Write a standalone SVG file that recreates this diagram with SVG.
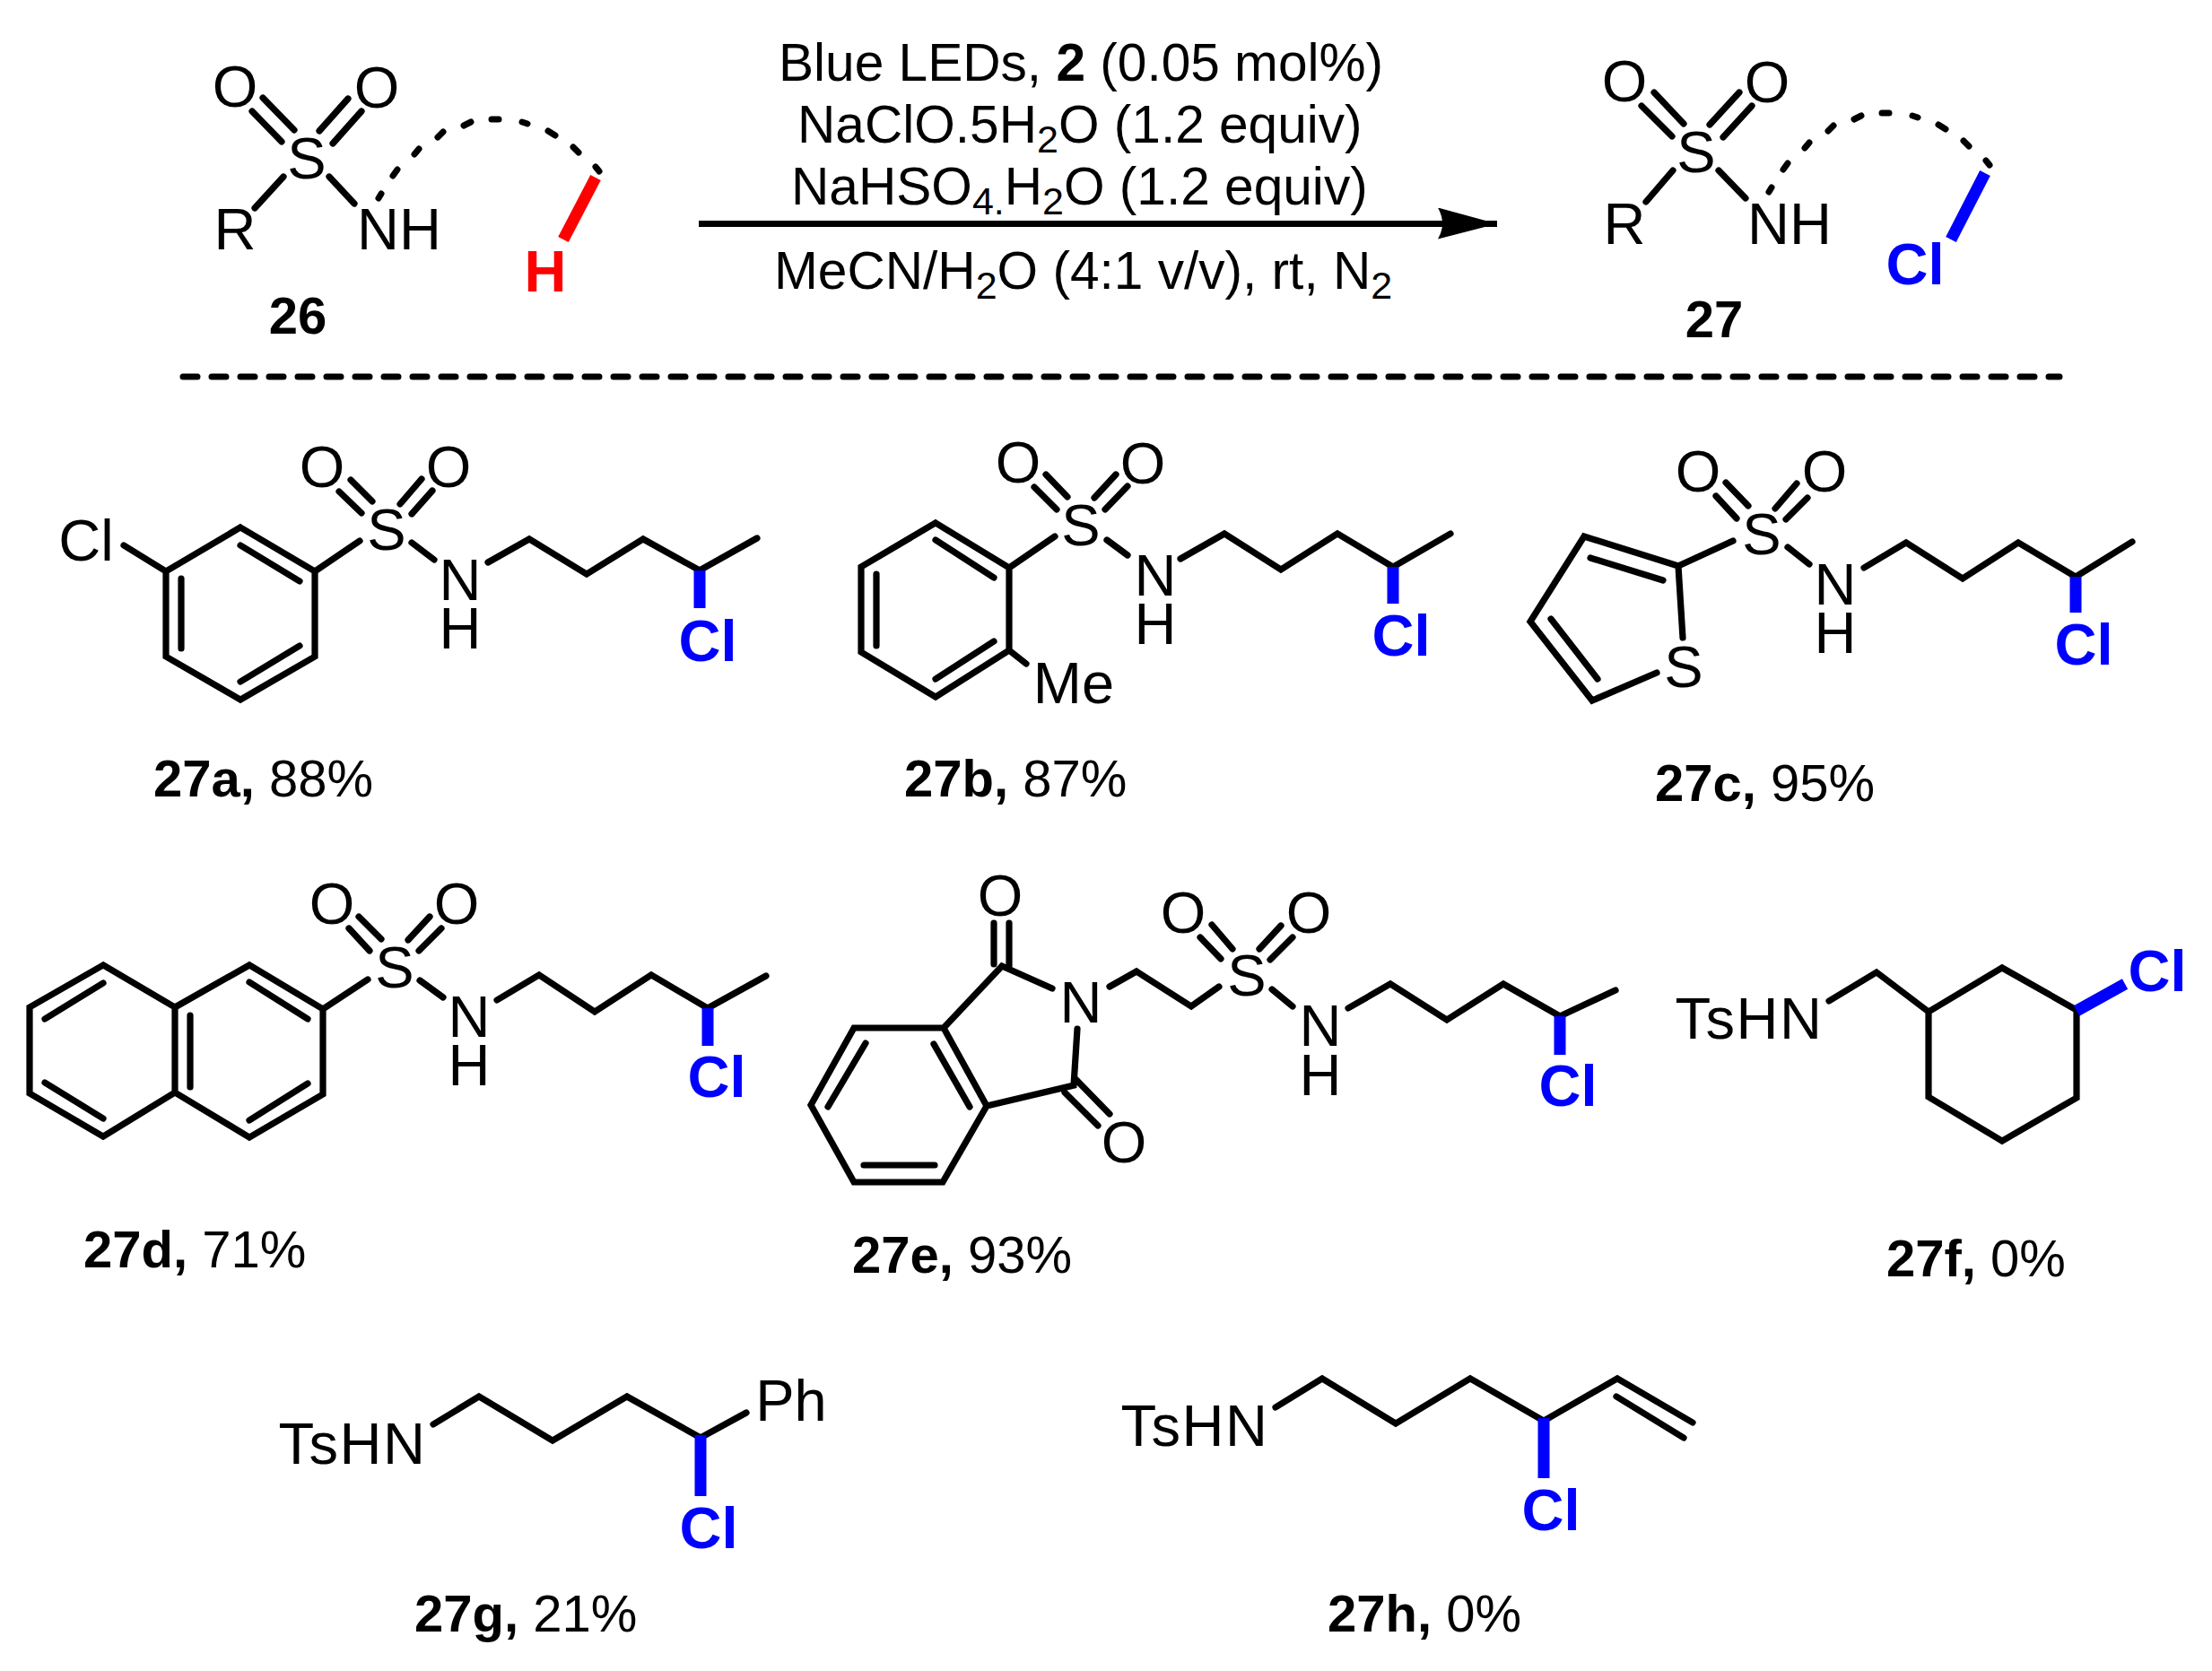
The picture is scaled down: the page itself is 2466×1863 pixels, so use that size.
<svg xmlns="http://www.w3.org/2000/svg" width="2466" height="1863" viewBox="0 0 2466 1863">
<style>
text{font-family:"Liberation Sans",Arial,sans-serif;fill:#000}
.a{font-size:65px;text-anchor:middle}
.t{font-size:65px;text-anchor:middle;letter-spacing:1.5px}
.cl{font-size:65px;font-weight:bold;text-anchor:middle;fill:#0000ff}
.h{font-size:65px;font-weight:bold;text-anchor:middle;fill:#ff0000}
.c{font-size:58.600px}
.l{font-size:58px}
.n{font-weight:bold}
.s{font-size:43px}
.b{fill:none;stroke:#000;stroke-width:7.200;stroke-linecap:round;stroke-linejoin:miter}
.d{fill:none;stroke:#000;stroke-width:7;stroke-linecap:round}
.x{fill:none;stroke:#0000ff;stroke-width:13}
.y{fill:none;stroke:#ff0000;stroke-width:13}
</style>
<defs>
<marker id="head" markerUnits="userSpaceOnUse" markerWidth="70" markerHeight="40" refX="66" refY="18" orient="auto"><path d="M0 0L66 18L0 35Q10 18 0 0Z" fill="#000"/></marker>
</defs>
<rect width="2466" height="1863" fill="#fff"/>
<g id="connectors">
<path d="M779 249.500L1669 249.500" fill="none" stroke="#000" stroke-width="7" marker-end="url(#head)"/>
<path d="M204 420L2296 420" fill="none" stroke="#000" stroke-width="7" stroke-linecap="round" stroke-dasharray="16 16"/>
</g>
<g id="conditions">
<text class="c" x="868" y="90">Blue LEDs, <tspan class="n">2</tspan> (0.05 mol%)</text>
<text class="c" x="889" y="159">NaClO.5H<tspan class="s" dy="11">2</tspan><tspan dy="-11">O (1.2 equiv)</tspan></text>
<text class="c" x="882" y="228">NaHSO<tspan class="s" dy="11">4.</tspan><tspan dy="-11">H</tspan><tspan class="s" dy="11">2</tspan><tspan dy="-11">O (1.2 equiv)</tspan></text>
<text class="c" x="863" y="322">MeCN/H<tspan class="s" dy="11">2</tspan><tspan dy="-11">O (4:1 v/v), rt, N</tspan><tspan class="s" dy="11">2</tspan></text>
</g>
<g id="m26">
<path class="b" d="M293 109L328 145M281 124L314 158M388 110L356 146M403 124L371 160M316 197L284 232M367 197L395 227"/>
<path id="tether" class="d" d="M422 221L425 216M438 196L443 189M462 172L467 166M488 153L494 147M517 140L525 136M548 133L556 133M582 136L588 138M611 146L619 151M639 164L645 170M664 186L668 191"/>
<path class="y" d="M664 198L628 267"/>
<text class="a" x="262" y="119">O</text><text class="a" x="420" y="120">O</text><text class="a" x="342" y="199">S</text>
<text class="a" x="262" y="278">R</text><text class="a" x="445" y="278">NH</text>
<text class="h" x="608" y="325">H</text>
<text class="l n" x="332" y="372" text-anchor="middle">26</text>
</g>
<g id="m27">
<path class="b" d="M1844 103L1877 138M1830 118L1864 152M1939 103L1906 139M1953 118L1921 153M1865 190L1835 225M1916 190L1946 221"/>
<path class="d" transform="translate(1550 -7)" d="M422 221L425 216M438 196L443 189M462 172L467 166M488 153L494 147M517 140L525 136M548 133L556 133M582 136L588 138M611 146L619 151M639 164L645 170M664 186L668 191"/>
<path class="x" d="M2213 193L2175 267"/>
<text class="a" x="1811" y="113">O</text><text class="a" x="1970" y="114">O</text><text class="a" x="1891" y="192">S</text>
<text class="a" x="1811" y="272">R</text><text class="a" x="1995" y="272">NH</text>
<text class="cl" x="2135" y="317">Cl</text>
<text class="l n" x="1911" y="376" text-anchor="middle">27</text>
</g>
<g id="m27a">
<path class="b" d="M268 588L351 637L351 732L268 780L185 732L185 637ZM268 608L334 648M334 720L268 760M202 645L202 723M185 637L138 608M351 637L401 603M391 535L415 559M378 548L403 572M470 534L446 562M482 547L459 573M459 605L484 624M544 627L590 601L654 640L717 601L780 636L844 600"/>
<path class="x" d="M780 636L780 678"/>
<text class="a" x="96" y="625">Cl</text><text class="a" x="431" y="613">S</text><text class="a" x="359" y="543">O</text><text class="a" x="500" y="543">O</text><text class="a" x="513" y="669">N</text><text class="a" x="513" y="723">H</text>
<text class="cl" x="789" y="737">Cl</text>
<text class="l" x="171" y="888"><tspan class="n">27a,</tspan> 88%</text>
</g>
<g id="m27b">
<path class="b" d="M1043 583L1125 633L1125 725L1043 777L960 727L960 632ZM1043 602L1108 644M1108 715L1043 757M977 640L977 720M1125 633L1176 598M1166 529L1190 554M1153 543L1178 568M1244 529L1220 555M1257 542L1232 568M1234 602L1257 619M1125 725L1144 740M1316 623L1365 595L1428 635L1491 595L1553 632L1617 595"/>
<path class="x" d="M1553 632L1553 673"/>
<text class="a" x="1205" y="608">S</text><text class="a" x="1135" y="538">O</text><text class="a" x="1274" y="539">O</text><text class="a" x="1288" y="664">N</text><text class="a" x="1288" y="718">H</text><text class="a" x="1197" y="784">Me</text>
<text class="cl" x="1562" y="731">Cl</text>
<text class="l" x="1008" y="888"><tspan class="n">27b,</tspan> 87%</text>
</g>
<g id="m27c">
<path class="b" d="M1876 711L1871 631L1766 598L1706 693L1775 781L1847 750M1773 622L1854 647M1729 690L1781 757M1871 631L1932 603M1924 538L1949 564M1913 553L1936 578M2003 539L1979 567M2015 555L1991 579M1993 610L2017 629M2078 633L2125 605L2188 645L2250 605L2314 643L2377 604"/>
<path class="x" d="M2314 643L2314 683"/>
<text class="a" x="1964" y="618">S</text><text class="a" x="1877" y="766">S</text><text class="a" x="1893" y="548">O</text><text class="a" x="2034" y="548">O</text><text class="a" x="2046" y="674">N</text><text class="a" x="2046" y="728">H</text>
<text class="cl" x="2323" y="741">Cl</text>
<text class="l" x="1845" y="893"><tspan class="n">27c,</tspan> 95%</text>
</g>
<g id="m27d">
<path class="b" d="M115 1076L33 1123L33 1219L115 1267L195 1218L195 1123ZM195 1123L278 1076L360 1125L360 1220L278 1268L195 1218M115 1096L50 1136M50 1207L115 1247M212 1132L212 1212M278 1095L343 1136M343 1208L278 1249M360 1125L410 1092M400 1022L425 1047M389 1035L412 1060M479 1022L455 1048M492 1035L467 1060M468 1093L494 1112M554 1115L601 1087L663 1128L726 1087L789 1124L854 1088"/>
<path class="x" d="M789 1124L789 1166"/>
<text class="a" x="440" y="1101">S</text><text class="a" x="370" y="1030">O</text><text class="a" x="509" y="1030">O</text><text class="a" x="523" y="1156">N</text><text class="a" x="523" y="1210">H</text>
<text class="cl" x="799" y="1223">Cl</text>
<text class="l" x="93" y="1413"><tspan class="n">27d,</tspan> 71%</text>
</g>
<g id="m27e">
<path class="b" d="M952 1146L1052 1146L1100 1233L1051 1318L952 1318L904 1232ZM965 1163L923 1234M1041 1164L1081 1234M963 1299L1042 1299M1052 1146L1117 1077L1173 1102M1108 1029L1108 1075M1125 1029L1125 1078M1201 1147L1197 1210L1100 1233M1187 1218L1224 1255M1199 1203L1237 1242M1237 1100L1267 1083L1328 1122L1359 1100M1351 1031L1374 1058M1338 1045L1361 1069M1428 1032L1404 1058M1441 1045L1416 1070M1418 1103L1441 1122M1503 1124L1550 1097L1613 1137L1676 1097L1739 1133L1801 1104"/>
<path class="x" d="M1739 1133L1739 1176"/>
<text class="a" x="1115" y="1021">O</text><text class="a" x="1205" y="1140">N</text><text class="a" x="1253" y="1296">O</text><text class="a" x="1390" y="1110">S</text><text class="a" x="1319" y="1040">O</text><text class="a" x="1459" y="1040">O</text><text class="a" x="1472" y="1166">N</text><text class="a" x="1472" y="1221">H</text>
<text class="cl" x="1748" y="1233">Cl</text>
<text class="l" x="950" y="1419"><tspan class="n">27e,</tspan> 93%</text>
</g>
<g id="m27f">
<path class="b" d="M2039 1116L2092 1084L2150 1128M2150 1128L2232 1079L2315 1126L2315 1224L2232 1272L2150 1223Z"/>
<path class="x" d="M2315 1127L2369 1097"/>
<text class="t" x="1950" y="1158">TsHN</text>
<text class="cl" x="2405" y="1105">Cl</text>
<text class="l" x="2103" y="1423"><tspan class="n">27f,</tspan> 0%</text>
</g>
<g id="m27g">
<path class="b" d="M483 1588L534 1557L616 1606L699 1557L781 1603L832 1575"/>
<path class="x" d="M781 1600L781 1668"/>
<text class="t" x="393" y="1632">TsHN</text><text class="a" x="882" y="1584">Ph</text>
<text class="cl" x="790" y="1726">Cl</text>
<text class="l" x="462" y="1819"><tspan class="n">27g,</tspan> 21%</text>
</g>
<g id="m27h">
<path class="b" d="M1422 1569L1474 1537L1556 1587L1639 1537L1721 1584L1803 1537L1887 1586M1802 1557L1877 1603"/>
<path class="x" d="M1721 1581L1721 1648"/>
<text class="t" x="1332" y="1612">TsHN</text>
<text class="cl" x="1729" y="1706">Cl</text>
<text class="l" x="1480" y="1819"><tspan class="n">27h,</tspan> 0%</text>
</g>
</svg>
